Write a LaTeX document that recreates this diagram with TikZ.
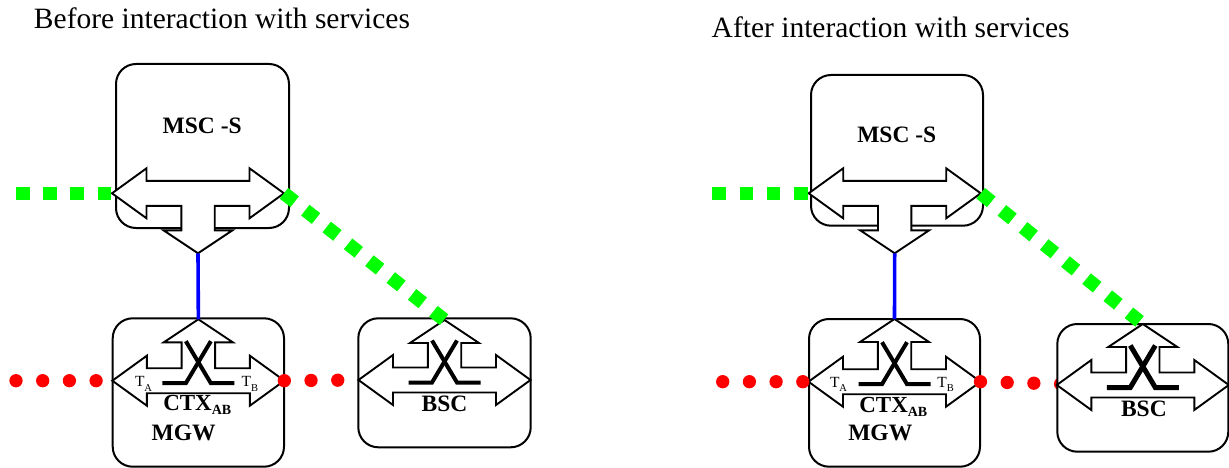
\documentclass[tikz,border=0pt]{standalone}
\usepackage{fontspec}
\setmainfont{Liberation Serif}
\tikzset{
 box/.style={draw, line width=2pt, rounded corners=20pt, fill=white, inner sep=0pt, outer sep=0pt},
 arrowshape/.style={draw, line width=1.9pt, fill=white, line join=miter},
 xsw/.style={line width=4pt},
 lbl/.style={inner sep=0pt, outer sep=0pt, anchor=base west, font=\bfseries\fontsize{23.5}{24}\selectfont},
 ctxlbl/.style={inner sep=0pt, outer sep=0pt, anchor=base west, font=\bfseries\fontsize{23}{23}\selectfont},
 tlbl/.style={inner sep=0pt, outer sep=0pt, anchor=base west, font=\fontsize{15.5}{15.5}\selectfont},
 gline/.style={color=green, line width=13.6pt, dash pattern=on 13.6pt off 13.6pt},
 rline/.style={color=red, line width=13.3pt, line cap=round, dash pattern=on 0pt off 26.7pt},
 bline/.style={color=blue, line width=3.6pt},
 titlelbl/.style={inner sep=0pt, outer sep=0pt, anchor=base west, font=\fontsize{29.5}{30}\selectfont},
}
% name, cx, cy, s (1 = down, -1 = up), tip y
\newcommand{\mytshape}[5]{%
 \pgfmathsetmacro{\mybs}{#5-(#4)*23}%
 \draw[arrowshape] ({#2-86},#3) -- ({#2-51.5},{#3-(#4)*25}) -- ({#2-51.5},{#3-(#4)*12.5})
  -- ({#2+51.5},{#3-(#4)*12.5}) -- ({#2+51.5},{#3-(#4)*25}) -- ({#2+86},#3)
  -- ({#2+51.5},{#3+(#4)*25}) -- ({#2+51.5},{#3+(#4)*12.5}) -- ({#2+16.7},{#3+(#4)*12.5})
  -- ({#2+16.7},\mybs) -- ({#2+34.5},\mybs) -- (#2,#5) -- ({#2-34.5},\mybs)
  -- ({#2-16.7},\mybs) -- ({#2-16.7},{#3+(#4)*12.5}) -- ({#2-51.5},{#3+(#4)*12.5})
  -- ({#2-51.5},{#3+(#4)*25}) -- cycle;
 \coordinate (#1-w) at ({#2-86},#3);
 \coordinate (#1-e) at ({#2+86},#3);
 \coordinate (#1-v) at (#2,#5);
}
% cx, cy, extra style
\newcommand{\myxsw}[3]{%
 \draw[xsw,#3] ({#1-36},{#2+2.5}) -- ({#1-12.5},{#2+2.5}) -- ({#1+12.5},{#2-39.5});
 \draw[xsw,#3] ({#1-12.5},{#2-39.5}) -- ({#1+12.5},{#2+2.5}) -- ({#1+36},{#2+2.5});
}
\begin{document}
\begin{tikzpicture}[x=1pt,y=-1pt]
\useasboundingbox (0,0) rectangle (1229,468);
% titles
\node[titlelbl] (t1) at (34,29) {Before interaction with services};
\node[titlelbl] (t2) at (711.7,38) {After interaction with services};
% boxes
\node[box, minimum width=173pt, minimum height=164pt] (mscL) at (202.5,146) {};
\node[box, minimum width=171.3pt, minimum height=148.4pt] (mgwL) at (198.35,392.5) {};
\node[box, minimum width=172.4pt, minimum height=129pt] (bscL) at (444.5,382.8) {};
\node[box, minimum width=172pt, minimum height=150.7pt] (mscR) at (897,150.35) {};
\node[box, minimum width=171pt, minimum height=147.7pt] (mgwR) at (894.5,392.85) {};
% arrows
\mytshape{mL}{198}{193.3}{1}{253.3}
\mytshape{gL}{198.35}{380.7}{-1}{319.3}
\mytshape{bL}{444.5}{380}{-1}{320}
\mytshape{mR}{894.7}{193.3}{1}{253.3}
\mytshape{gR}{894.5}{381.7}{-1}{319}
% switches
\myxsw{198.35}{380.7}{}
\myxsw{444.5}{380}{}
\myxsw{894.5}{381.7}{}
% labels
\node[lbl] (mLt) at (162.7,133.3) {MSC -S};
\node[lbl] (mRt) at (857.3,142.7) {MSC -S};
\node[ctxlbl] (cL) at (163.3,410.7) {CTX\raisebox{-3.3pt}{\fontsize{14}{14}\selectfont AB}};
\node[ctxlbl] (cR) at (859.3,412.7) {CTX\raisebox{-3.3pt}{\fontsize{14}{14}\selectfont AB}};
\node[lbl] (gLt) at (151.7,440.7) {MGW};
\node[lbl] (gRt) at (848.3,440) {MGW};
\node[lbl] (bLt) at (421.7,411.7) {BSC};
\node[tlbl] (taL) at (135,386.7) {T\raisebox{-4.3pt}{\fontsize{10.5}{10.5}\selectfont A}};
\node[tlbl] (tbL) at (241.7,386.7) {T\raisebox{-4.3pt}{\fontsize{10.5}{10.5}\selectfont B}};
\node[tlbl] (taR) at (830,387.3) {T\raisebox{-4.3pt}{\fontsize{10.5}{10.5}\selectfont A}};
\node[tlbl] (tbR) at (937.3,387.3) {T\raisebox{-4.3pt}{\fontsize{10.5}{10.5}\selectfont B}};
% connectors left
\coordinate (gsL) at (16,193.3);
\draw[gline] (gsL) -- (mL-w);
\draw[gline] (mL-e) -- (bL-v);
\coordinate (rsL) at (16,380.7);
\draw[rline] (rsL) -- (gL-w);
\draw[rline] (gL-e) -- (bL-w);
\draw[bline] (mL-v) -- (gL-v);
% connectors right
\coordinate (gsR) at (712.3,193.3);
\draw[gline] (gsR) -- (mR-w);
\coordinate (rsR) at (722.7,381.7);
\draw[rline] (rsR) -- (gR-w);
\coordinate (reR) at (1062,384);
\draw[rline] (gR-e) -- (reR);
\draw[bline] (mR-v) -- (gR-v);
% right BSC drawn on top
\node[box, minimum width=171pt, minimum height=127.7pt] (bscR) at (1142.8,387.85) {};
\mytshape{bR}{1142.8}{385}{-1}{324}
\myxsw{1142.8}{385}{line width=5pt}
\node[lbl] (bRt) at (1121,416.7) {BSC};
\draw[gline] (mR-e) -- (bR-v);
\end{tikzpicture}
\end{document}
